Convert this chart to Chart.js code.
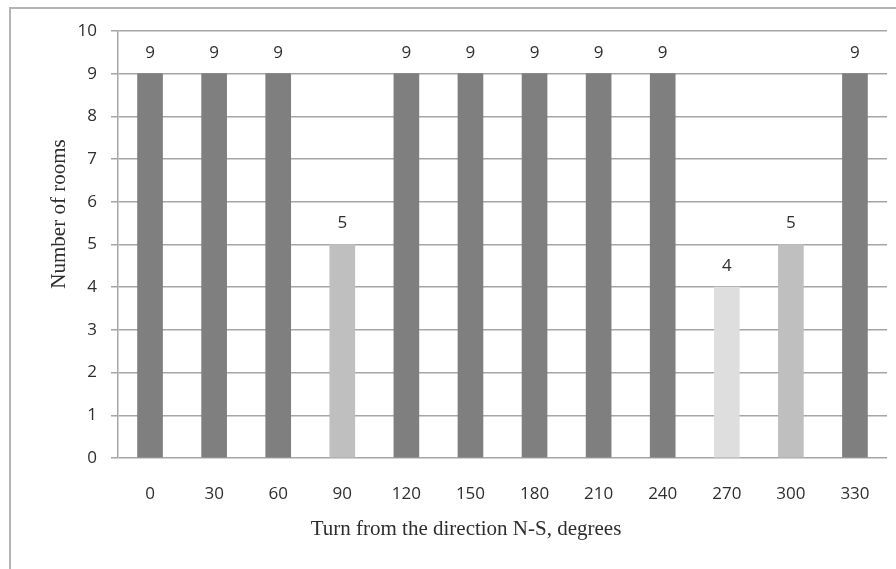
<!DOCTYPE html>
<html>
<head>
<meta charset="utf-8">
<script src="https://cdn.jsdelivr.net/npm/chart.js@4/dist/chart.umd.min.js"></script>
<style>
  html, body { margin: 0; padding: 0; background: #ffffff; }
  #wrap { position: relative; width: 896px; height: 569px; }
</style>
</head>
<body>
<div id="wrap"><canvas id="chart" width="896" height="569"></canvas></div>
<script>
// Room counts per orientation angle
const angles = ['0', '30', '60', '90', '120', '150', '180', '210', '240', '270', '300', '330'];
const rooms = [9, 9, 9, 5, 9, 9, 9, 9, 9, 4, 5, 9];
const yTicks = [0, 1, 2, 3, 4, 5, 6, 7, 8, 9, 10];

const xTitle = 'Turn from the direction N-S, degrees';
const yTitle = 'Number of rooms';

// shade bars by how many rooms they hold
function shade(v) {
  if (v >= 9) return '#7f7f7f';
  if (v === 5) return '#bfbfbf';
  return '#dedede';
}

const gridColor = '#a6a6a6';
const textColor = '#2e2e2e';
const tickFont = { family: '"Open Sans", "DejaVu Sans", sans-serif', size: 17 };
const titleFamily = '"Liberation Serif", "DejaVu Serif", serif';
const titleSize = 21;

// thin frame along the top and left of the figure
const framePlugin = {
  id: 'frame',
  beforeDraw(chart) {
    const ctx = chart.ctx;
    ctx.save();
    ctx.strokeStyle = '#b4b4b4';
    ctx.lineWidth = 2;
    ctx.beginPath();
    ctx.moveTo(10, 569);
    ctx.lineTo(10, 8);
    ctx.lineTo(896, 8);
    ctx.stroke();
    ctx.restore();
  }
};

// value written above every bar
const valueLabels = {
  id: 'valueLabels',
  afterDatasetsDraw(chart) {
    const ctx = chart.ctx;
    const meta = chart.getDatasetMeta(0);
    ctx.save();
    ctx.fillStyle = textColor;
    ctx.font = tickFont.size + 'px ' + tickFont.family;
    ctx.textAlign = 'center';
    ctx.textBaseline = 'middle';
    meta.data.forEach((bar, i) => {
      ctx.fillText(String(rooms[i]), bar.x, bar.y - 21);
    });
    ctx.restore();
  }
};

// axis titles, placed relative to the plot area
const axisTitles = {
  id: 'axisTitles',
  afterDraw(chart) {
    const ctx = chart.ctx;
    const a = chart.chartArea;
    ctx.save();
    ctx.fillStyle = textColor;
    ctx.font = titleSize + 'px ' + titleFamily;
    ctx.textAlign = 'center';
    ctx.textBaseline = 'middle';
    ctx.fillText(xTitle, a.left + 348, a.bottom + 71);
    ctx.translate(a.left - 59, a.top + 183);
    ctx.rotate(-Math.PI / 2);
    ctx.fillText(yTitle, 0, 0);
    ctx.restore();
  }
};

new Chart(document.getElementById('chart'), {
  type: 'bar',
  data: {
    labels: angles,
    datasets: [{
      data: rooms,
      backgroundColor: rooms.map(shade),
      borderWidth: 0,
      barThickness: 25
    }]
  },
  options: {
    responsive: false,
    animation: false,
    layout: { padding: { top: 31, right: 9, bottom: 0, left: 0 } },
    plugins: {
      legend: { display: false },
      tooltip: { enabled: false }
    },
    scales: {
      x: {
        grid: { display: false, drawTicks: false, tickLength: 0 },
        border: { display: false },
        ticks: { color: textColor, font: tickFont, padding: 26, maxRotation: 0 },
        afterFit(scale) { scale.height = 111; }
      },
      y: {
        min: 0,
        max: 10,
        afterBuildTicks(scale) { scale.ticks = yTicks.map(v => ({ value: v })); },
        grid: { color: gridColor, lineWidth: 1.5, tickLength: 7, drawTicks: true },
        border: { display: true, color: gridColor, width: 1.5 },
        ticks: { color: textColor, font: tickFont, padding: 14 },
        afterFit(scale) { scale.width = 118; }
      }
    }
  },
  plugins: [framePlugin, valueLabels, axisTitles]
});
</script>
</body>
</html>
